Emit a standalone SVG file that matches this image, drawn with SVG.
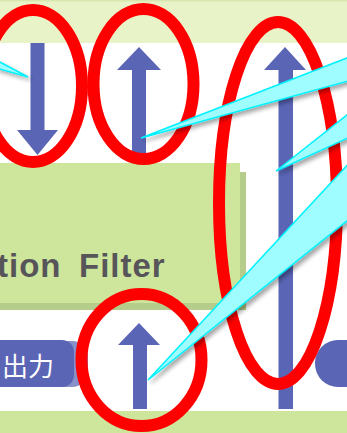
<svg xmlns="http://www.w3.org/2000/svg" width="347" height="433" viewBox="0 0 347 433">
  <style>
    .arrow { fill: #5a65b5; }
    .ring { fill: none; stroke: #ff0000; stroke-width: 12; }
    .wedge { fill: #9ffcff; stroke: #00f2ff; stroke-width: 1.5; stroke-linejoin: miter; filter: url(#shadow); }
    .pill { fill: #5a65b5; }
    .label { font-family: "Liberation Sans", Arial, sans-serif; font-weight: bold; font-size: 33px; fill: #57555a; letter-spacing: 1px; }
    .pilltext { font-family: "Noto Sans CJK JP", "Noto Sans", sans-serif; font-size: 26px; fill: #ffffff; }
  </style>
  <defs>
    <filter id="shadow" x="-20%" y="-20%" width="150%" height="150%">
      <feDropShadow dx="3" dy="3" stdDeviation="2" flood-color="#000000" flood-opacity="0.35"/>
    </filter>
    <filter id="soft" x="-20%" y="-20%" width="140%" height="140%">
      <feGaussianBlur stdDeviation="0.6"/>
    </filter>
  </defs>

  <rect x="0" y="0" width="347" height="433" fill="#ffffff"/>

  <g id="top-band">
    <rect x="0" y="0" width="347" height="43" fill="#e8f4c7"/>
    <rect x="0" y="0" width="347" height="1.5" fill="#d6e8ae"/>
  </g>

  <g id="filter-box">
    <rect x="-10" y="172" width="256" height="138" fill="#b6cc8a"/>
    <rect x="-10" y="163" width="250" height="140" fill="#cde69b"/>
    <text class="label" y="277"><tspan x="-3">tion</tspan><tspan x="79">Filter</tspan></text>
  </g>

  <g id="bottom-band">
    <rect x="0" y="411" width="347" height="22" fill="#cde69b"/>
  </g>

  <g id="arrows" filter="url(#soft)">
    <g id="arrow-down-left">
      <rect class="arrow" x="30.5" y="43" width="14" height="88"/>
      <polygon class="arrow" points="17,130 58,130 37.5,155"/>
    </g>
    <g id="arrow-up-middle">
      <rect class="arrow" x="132" y="69" width="14" height="94"/>
      <polygon class="arrow" points="117,70 161,70 139,47"/>
    </g>
    <g id="arrow-up-tall">
      <rect class="arrow" x="278.5" y="69" width="14.5" height="340"/>
      <polygon class="arrow" points="264,70 306,70 285,47"/>
    </g>
    <g id="arrow-up-bottom">
      <rect class="arrow" x="133" y="344" width="14" height="65"/>
      <polygon class="arrow" points="118,345 160,345 139,323"/>
    </g>
  </g>

  <g id="pill-left">
    <rect x="-20" y="341" width="108" height="46" rx="16" fill="#8890c9" filter="url(#soft)"/>
    <rect class="pill" x="-20" y="340" width="94" height="47" rx="12"/>
    <text class="pilltext" x="54" y="376" text-anchor="end">出力</text>
  </g>

  <g id="pill-right">
    <rect class="pill" x="315" y="340" width="70" height="47" rx="23" filter="url(#soft)"/>
  </g>

  <g id="rings">
    <ellipse class="ring" cx="33" cy="86" rx="49" ry="76"/>
    <ellipse class="ring" cx="143.5" cy="84" rx="50" ry="75"/>
    <ellipse class="ring" cx="278" cy="203" rx="59" ry="181"/>
    <ellipse class="ring" cx="141.5" cy="360" rx="60" ry="66"/>
  </g>

  <g id="connectors">
    <polygon class="wedge" points="-4,60 28,77 -4,68"/>
    <polygon class="wedge" points="141,138 352,56 352,80"/>
    <polygon class="wedge" points="276,171 352,111 352,136"/>
    <polygon class="wedge" points="148,380 352,160 352,217"/>
  </g>
</svg>
